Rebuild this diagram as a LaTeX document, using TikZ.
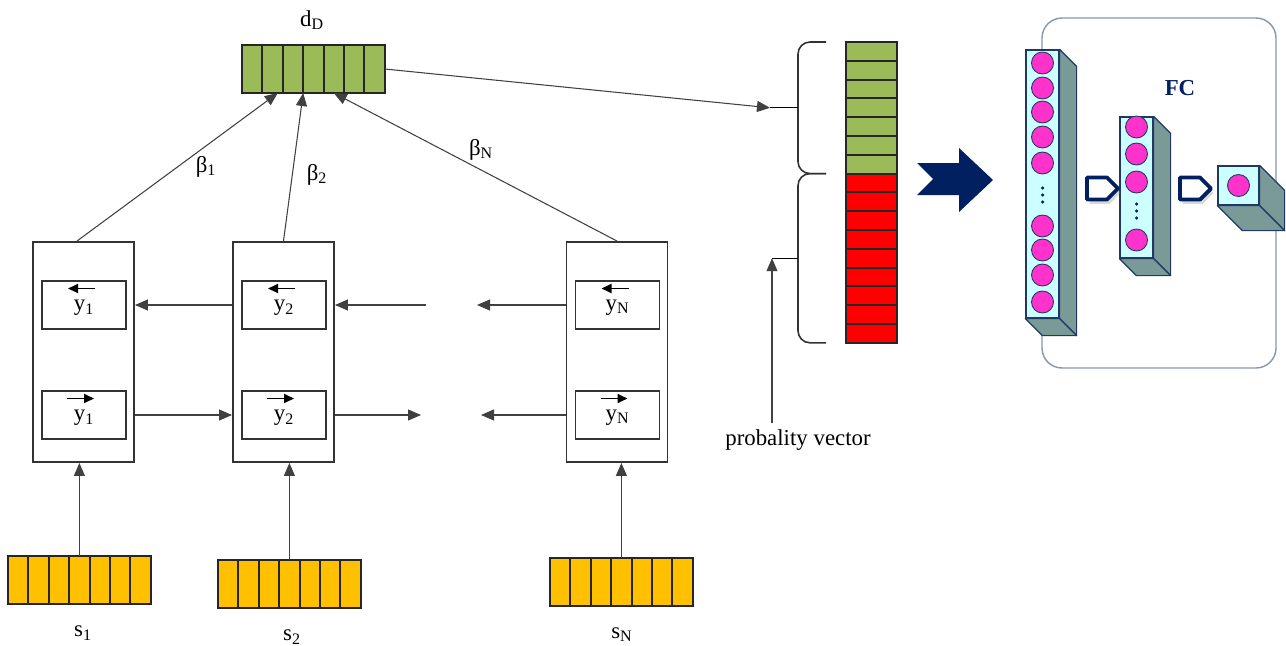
\documentclass[tikz,border=0pt]{standalone}
\usepackage{fontspec}
\setmainfont{Liberation Serif}
\usetikzlibrary{chains,scopes,positioning,arrows.meta,shapes.symbols,shadows}

\definecolor{navy}{HTML}{002060}
\definecolor{ingold}{HTML}{FFC000}
\definecolor{outgreen}{HTML}{9BBB59}
\definecolor{frontc}{HTML}{CCFFFF}
\definecolor{sidec}{HTML}{7A9A98}
\definecolor{neuronc}{HTML}{FF33CC}
\definecolor{layerc}{HTML}{1F3864}
\definecolor{panelc}{HTML}{8496B0}

\begin{document}
\begin{tikzpicture}[x=0.2mm,y=-0.2mm,
>={Triangle[length=2.6mm,width=2.2mm]},
font=\fontsize{13}{15}\selectfont,
cellbox/.style={
	% The shape:
	rectangle,minimum width=20.2mm,minimum height=44mm,
	% The border:
	draw=black!80,line width=1.1pt},
state/.style={
	rectangle,minimum width=16.8mm,minimum height=9.6mm,inner sep=0pt,
	text height=9.5pt,text depth=3pt,
	draw=black!80,line width=1.1pt},
% one slot of a vector (filled only, the lines come afterwards)
slot/.style={
	rectangle,minimum width=4.08mm,minimum height=9.6mm,outer sep=0pt},
pslot/.style={
	rectangle,minimum width=10.2mm,minimum height=3.76mm,outer sep=0pt},
slotline/.style={draw=black!85,line width=1.1pt},
link/.style={->,line width=0.6pt,draw=black!75},
dirarrow/.style={-{Triangle[length=2mm,width=1.8mm]},line width=1pt},
brk/.style={line width=0.9pt,draw=black!80,rounded corners=2.4mm},
% the fully connected part
layer/.style={rectangle,inner sep=0pt,fill=frontc,draw=layerc,line width=0.7pt},
face/.style={fill=sidec,draw=layerc,line width=0.7pt,line join=round},
neuron/.style={circle,minimum size=4.4mm,inner sep=0pt,
	fill=neuronc,draw=layerc,line width=0.5pt},
conn/.style={signal,signal to=east,minimum width=6.2mm,minimum height=4.4mm,
	draw=navy,line width=2.2pt,fill=white,line join=round,
	drop shadow={opacity=.3,shadow xshift=.5mm,shadow yshift=-.9mm}},
node distance=0pt]

\useasboundingbox (0,0) rectangle (1286,646);

%Vectors
{[shift={(252.2,69)},start chain=dD going right]
\foreach \k in {1,...,7} \node[slot,fill=outgreen,on chain] {};
}
{[shift={(18.2,580)},start chain=s1 going right]
\foreach \k in {1,...,7} \node[slot,fill=ingold,on chain] {};
}
{[shift={(228.2,584)},start chain=s2 going right]
\foreach \k in {1,...,7} \node[slot,fill=ingold,on chain] {};
}
{[shift={(560.2,582)},start chain=sN going right]
\foreach \k in {1,...,7} \node[slot,fill=ingold,on chain] {};
}
{[shift={(871.5,51.4)},start chain=prob going below]
\foreach \k in {1,...,16}{
	\ifnum\k<8 \def\slotcol{outgreen}\else\def\slotcol{red}\fi
	\node[pslot,fill=\slotcol,on chain] {};}
}
% outline every slot
\foreach \v/\m in {dD/7,s1/7,s2/7,sN/7,prob/16}
	\foreach \k in {1,...,\m}
		\draw[slotline] (\v-\k.south west) rectangle (\v-\k.north east);

\node (dlbl) at (312,20) {d\textsubscript{D}};
\node (ls1) at (83,633) {s\textsubscript{1}};
\node (ls2) at (292,637) {s\textsubscript{2}};
\node (lsN) at (622,635) {s\textsubscript{N}};

%Bidirectional cells
\node[cellbox] (c1) at (83.5,352) {};
\node[cellbox] (c2) at (283.5,352) {};
\node[cellbox] (cN) at (617,352) {};
\node[state] (l1) at (84,305) {y\textsubscript{1}};
\node[state] (r1) at (84,415) {y\textsubscript{1}};
\node[state] (l2) at (284,305) {y\textsubscript{2}};
\node[state] (r2) at (284,415) {y\textsubscript{2}};
\node[state] (lN) at (617.5,305) {y\textsubscript{N}};
\node[state] (rN) at (617.5,415) {y\textsubscript{N}};

\foreach \n in {l1,l2,lN}
	\draw[dirarrow] ([xshift=2.2mm,yshift=3.3mm]\n.center) -- ++(-27,0);
\foreach \n in {r1,r2,rN}
	\draw[dirarrow] ([xshift=-3.4mm,yshift=3.3mm]\n.center) -- ++(27,0);

% the gap between cell 2 and cell N
\coordinate (g1) at (426,305);
\coordinate (g2) at (477,305);
\coordinate (g3) at (421,415);
\coordinate (g4) at (481,415);

\draw[link] (c2.west |- l2) -- (c1.east |- l1);
\draw[link] (g1) -- (c2.east |- l2);
\draw[link] (cN.west |- lN) -- (g2);
\draw[link] (c1.east |- r1) -- (c2.west |- r2);
\draw[link] (c2.east |- r2) -- (g3);
\draw[link] (cN.west |- rN) -- (g4);

\draw[link] (s1-4.north) -- (s1-4.north |- c1.south);
\draw[link] (s2-4.north) -- (s2-4.north |- c2.south);
\draw[link] (sN-4.north) -- (sN-4.north |- cN.south);

\draw[link] ([xshift=-1.3mm]c1.north) -- ([xshift=-1mm]dD-2.south east)
	node[pos=.5,right=2.4mm] {β\textsubscript{1}};
\draw[link] (c2.north) -- (dD-4.south west)
	node[pos=.45,right=1.6mm] {β\textsubscript{2}};
\draw[link] (cN.north) -- (dD-5.south)
	node[pos=.48,above=.6mm] {β\textsubscript{N}};

%Braces in front of the probability vector
\coordinate (t1) at ([xshift=-15.2mm]prob-4.west);
\coordinate (b1) at ([xshift=-9.6mm]prob-4.west);
\coordinate (t2) at ([xshift=-14.8mm]prob-12.west);
\coordinate (b2) at ([xshift=-9.6mm]prob-12.west);
\draw[brk] ([xshift=-4mm]prob-1.north west) -| (b1) |- ([xshift=-4mm]prob-7.south west);
\draw[brk] ([xshift=-4mm]prob-8.north west) -| (b2) |- ([xshift=-4mm]prob-16.south west);

\node (plabel) at (798,440) {probality vector};
\draw[link] (dD-7.east) -- (t1);
\draw[line width=0.6pt] (t1) -- (b1);
\draw[link] (plabel.north -| t2) -- (t2);
\draw[line width=0.6pt] (t2) -- (b2);

% big arrow
\fill[navy] (917,163) -- (959,163) -- (959,148) -- (993,180) -- (959,212)
	-- (959,195) -- (917,195) -- (933,179) -- cycle;

%FC block
\node[draw=panelc,line width=0.8pt,rounded corners=4mm,
	minimum width=46.8mm,minimum height=70mm] (fcbox) at (1159,193) {};
\node[font=\fontsize{13}{15}\selectfont\bfseries,text=navy] (fclbl) at (1180,88) {FC};

\node[layer,minimum width=6.6mm,minimum height=53.6mm] (fc1) at (1042.5,184) {};
\node[layer,minimum width=6.6mm,minimum height=28.2mm] (fc2) at (1136.5,187.5) {};
\node[layer,minimum width=8.2mm,minimum height=7.8mm] (fc3) at (1238.5,185.5) {};
\foreach \n/\d in {fc1/17,fc2/17,fc3/25}{
	\filldraw[face] (\n.north east) -- ++(\d,\d) -- ([shift={(\d,\d)}]\n.south east)
		-- (\n.south east) -- cycle;
	\filldraw[face] (\n.south west) -- ++(\d,\d) -- ([shift={(\d,\d)}]\n.south east)
		-- (\n.south east) -- cycle;
}

\foreach \y [count=\i] in {63,88,112,137,163,226,250,275,302}
	\node[neuron] (u\i) at (1042.5,\y) {};
\foreach \y [count=\i] in {127,154,182,240}
	\node[neuron] (v\i) at (1136.5,\y) {};
\node[neuron] (w1) at (fc3) {};
\foreach \y in {188,195,202} \fill[navy] (1042.5,\y) circle (0.35mm);
\foreach \y in {204,211,218} \fill[navy] (1136.5,\y) circle (0.35mm);

\node[conn] (k1) at (1097,188.5) {};
\node[conn] (k2) at (1190,188.5) {};

\end{tikzpicture}
\end{document}
